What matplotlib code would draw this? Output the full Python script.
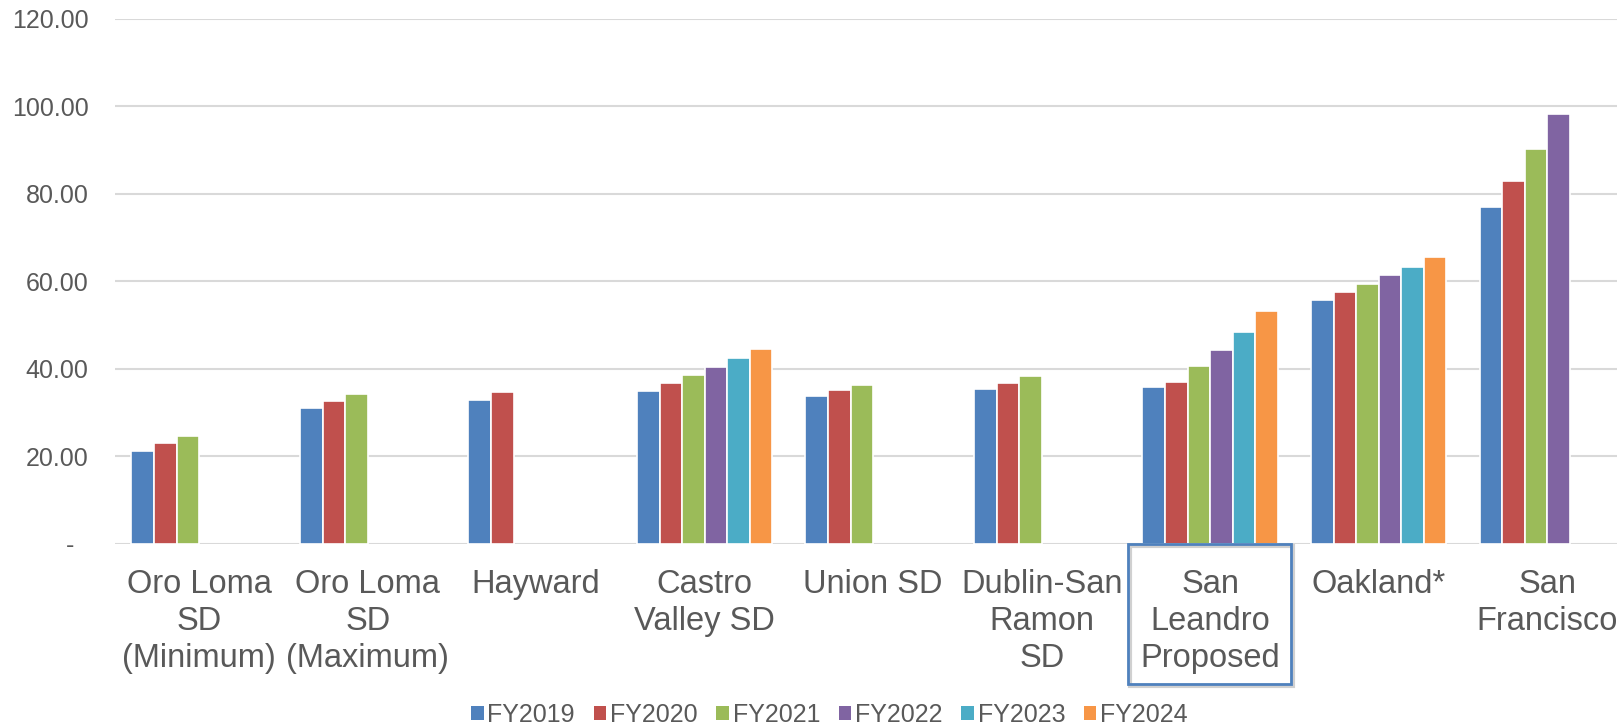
import matplotlib.pyplot as plt
import numpy as np
from matplotlib.patches import Rectangle, Patch

# data
categories = [
    "Oro Loma\nSD\n(Minimum)", "Oro Loma\nSD\n(Maximum)", "Hayward", "Castro\nValley SD",
    "Union SD", "Dublin-San\nRamon\nSD", "San\nLeandro\nProposed", "Oakland*", "San\nFrancisco",
]
series_names = ["FY2019", "FY2020", "FY2021", "FY2022", "FY2023", "FY2024"]
nan = np.nan
fy2019 = [21.3, 31.0, 32.9, 35.0, 33.9, 35.4, 35.8, 55.7, 77.0]
fy2020 = [23.0, 32.6, 34.6, 36.7, 35.2, 36.8, 37.1, 57.5, 82.9]
fy2021 = [24.6, 34.3, nan, 38.5, 36.4, 38.4, 40.6, 59.4, 90.2]
fy2022 = [nan, nan, nan, 40.5, nan, nan, 44.3, 61.4, 98.1]
fy2023 = [nan, nan, nan, 42.4, nan, nan, 48.5, 63.3, nan]
fy2024 = [nan, nan, nan, 44.6, nan, nan, 53.2, 65.5, nan]
colors = ["#4F81BD", "#C0504D", "#9BBB59", "#8064A2", "#4BACC6", "#F79646"]
yticks = [0, 20, 40, 60, 80, 100, 120]
ytick_labels = ["-  ", "20.00", "40.00", "60.00", "80.00", "100.00", "120.00"]

plt.rcParams['font.family'] = ['Liberation Sans', 'DejaVu Sans']
text_color = "#595959"

fig = plt.figure(figsize=(16.17, 7.25), dpi=100)
ax = fig.add_axes([0.0711, 0.2497, 0.9289, 0.7247])

x = np.arange(len(categories))
slot = 0.134
all_series = [fy2019, fy2020, fy2021, fy2022, fy2023, fy2024]
for i, (vals, c) in enumerate(zip(all_series, colors)):
    offs = (i - 2.5) * slot
    ax.bar(x + offs, vals, width=slot, color=c, edgecolor="white", linewidth=1.2, zorder=3)

ax.set_xlim(-0.5, 8.414)
ax.set_ylim(0, 120)
ax.set_yticks(yticks)
ax.set_yticklabels(ytick_labels, fontsize=18, color=text_color)
ax.set_xticks(x)
ax.set_xticklabels(categories, fontsize=23.5, color=text_color, linespacing=1.25)
ax.tick_params(axis="y", length=0, pad=19)
ax.tick_params(axis="x", length=0, pad=18)
ax.grid(axis="y", color="#D9D9D9", linewidth=1.5, zorder=0)
for s in ax.spines.values():
    s.set_visible(False)

# highlight box round San Leandro label
fig.patches.append(Rectangle((1130 / 1617, 1 - 686 / 725), 163 / 1617, 140 / 725,
                             transform=fig.transFigure, fill=False,
                             edgecolor="#D0D0D0", linewidth=3, zorder=1))
fig.patches.append(Rectangle((1128 / 1617, 1 - 684 / 725), 163 / 1617, 140 / 725,
                             transform=fig.transFigure, fill=False,
                             edgecolor="#4F81BD", linewidth=2, zorder=2))

handles = [Patch(facecolor=c, edgecolor="none") for c in colors]
fig.legend(handles, series_names, loc="center", bbox_to_anchor=(0.513, 0.014), ncol=6,
           frameon=False, fontsize=18, handlelength=0.5, handleheight=0.5,
           handletextpad=0.15, columnspacing=0.75, labelcolor=text_color)

fig.savefig("out.png", dpi=100)
